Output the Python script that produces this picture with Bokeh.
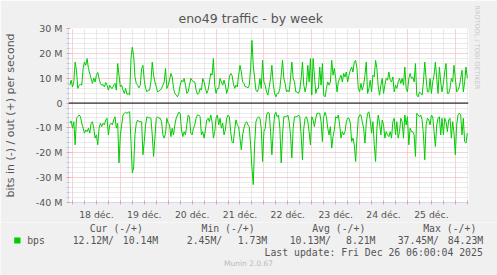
from bokeh.plotting import figure
from bokeh.layouts import column
from bokeh.models import FixedTicker, Span, Title, Range1d
from bokeh.core.properties import value
from bokeh.embed import file_html
from bokeh.resources import INLINE

# ---------------- data ----------------
# sample grid: hours relative to 18 déc. 00:00, one sample every 40 min
start_hour = -4 / 3
step_hour = 2 / 3

# out (+) traffic, Mbit/s
out_mbps = [
    7.2, 9.2, 6.5, 8.5, 16.5, 13.2, 5.9, 7.2, 7.5, 7.2,
    13.9, 16.5, 15.2, 17.9, 13.9, 11.9, 9.9, 7.9, 10.1, 8.5,
    11.2, 12.3, 9.9, 7.9, 7.2, 7.5, 6.5, 8.3, 7.2, 5.2,
    7.2, 6.1, 5.9, 7.2, 7.9, 5.2, 15.9, 11.2, 6.5, 7.2,
    5.2, 3.9, 5.9, 3.5, 3.9, 3.2, 17.9, 22.5, 19.2, 10.5,
    7.9, 7.2, 6.1, 7.2, 13.9, 15.2, 9.2, 5.9, 4.5, 5.2,
    5.2, 8.5, 16.5, 11.2, 8.5, 6.5, 4.5, 4.8, 5.2, 5.9,
    7.2, 8.5, 13.9, 5.9,
    7.2, 9.2, 11.9, 10.5, 5.9, 3.9, 3.2, 2.5, 3.9, 7.2,
    9.2, 8.5, 9.9, 7.2, 3.9, 4.5, 7.2, 9.9, 9.2, 8.5,
    8.5, 5.2, 3.5, 3.9, 5.9, 5.2, 9.9, 8.5, 5.9, 3.9,
    5.2, 8.5, 11.9, 11.2, 17.9, 7.2, 3.9, 5.9, 5.9, 9.9,
    8.5, 7.2, 9.2, 7.2, 3.9, 5.9, 10.5, 11.9, 11.2, 7.9,
    5.9, 7.2, 6.5, 11.2, 15.2, 12.5, 8.5, 7.9, 6.5, 6.5,
    6.1, 7.2, 13.9, 25.2, 15.2, 9.9, 5.2, 4.5, 5.9, 9.9,
    5.9, 17.2, 8.5, 7.2, 4.5, 3.2,
    6.5, 9.9, 15.2, 7.9, 3.9, 2.5, 3.9, 3.9, 5.9, 11.2,
    17.2, 9.9, 7.9, 4.5, 5.2, 4.5, 9.9, 16.5, 9.9, 8.5,
    4.5, 4.5, 3.9, 5.2, 9.9, 16.5, 7.2, 4.5, 7.2, 15.2,
    8.5, 17.9, 3.2, 17.9, 11.2, 3.9, 5.9, 5.9, 14.5, 7.2,
    15.9, 3.2, 2.5, 5.9, 8.5, 7.2, 8.5, 17.2, 11.2, 13.9,
    9.9, 4.5, 8.5, 9.9, 11.2, 8.5, 11.9, 10.5, 12.5, 8.5,
    11.2, 13.2, 14.5, 12.5, 16.5, 17.2, 13.9, 5.9, 4.5, 7.9,
    5.2, 7.2, 11.2, 16.5, 3.9,
    5.9, 9.2, 4.5, 11.2, 10.5, 17.2, 13.9, 6.5, 3.2, 7.2,
    9.9, 3.9, 7.2, 9.9, 9.2, 12.5, 9.2, 8.5, 10.5, 4.5,
    7.2, 5.9, 8.5, 9.9, 7.9, 9.9, 7.2, 14.5, 5.9, 4.5,
    9.9, 11.9, 9.9, 10.5, 8.5, 15.9, 3.2, 2.5, 4.5, 3.9,
    3.2, 8.5, 16.5, 9.9, 4.5, 4.5, 9.9, 3.9, 8.5, 11.2,
    16.5, 9.9, 3.9, 14.5, 8.5, 4.5, 7.9, 12.5, 15.9, 3.9,
    3.9, 5.9, 9.9, 8.5, 15.2, 9.9, 4.5, 5.2, 6.5, 9.9,
    13.2, 4.5, 8.5, 14.5, 10.1,
]

# in (-) traffic, Mbit/s (drawn below zero)
in_mbps = [
    8.1, 7.2, 10.1, 7.5, 16.8, 6.1, 5.5, 4.8, 5.5, 8.1,
    10.1, 12.1, 10.8, 11.5, 10.1, 12.1, 8.1, 7.5, 10.1, 14.1,
    12.8, 16.8, 10.1, 8.1, 9.5, 8.1, 8.8, 6.8, 6.1, 12.8,
    8.8, 8.1, 8.8, 6.8, 5.5, 10.1, 8.1, 24.1, 12.8, 8.8,
    4.8, 4.1, 3.7, 4.1, 3.7, 3.5, 15.5, 28.1, 26.1, 12.8,
    8.1, 6.8, 7.5, 7.5, 7.5, 20.8, 15.5, 8.8, 5.5, 5.9,
    5.9, 6.1, 12.8, 21.5, 14.1, 6.1, 5.5, 6.1, 6.1, 7.5,
    12.8, 14.1, 12.1, 6.1,
    8.1, 8.8, 13.5, 10.1, 12.8, 8.8, 6.1, 4.8, 3.7, 4.1,
    10.8, 13.5, 11.5, 12.8, 8.8, 4.8, 5.5, 12.1, 12.8, 10.1,
    8.8, 6.1, 4.8, 4.8, 5.5, 12.8, 11.5, 14.1, 10.8, 6.8,
    6.1, 7.5, 4.8, 7.5, 14.1, 11.5, 6.1, 4.8, 8.8, 6.1,
    10.1, 8.1, 12.8, 10.8, 6.1, 4.8, 5.5, 11.5, 15.5, 16.1,
    10.8, 6.8, 8.8, 9.5, 14.1, 18.8, 12.8, 10.1, 8.1, 7.5,
    8.8, 9.5, 16.8, 26.1, 32.8, 16.8, 7.5, 6.1, 5.5, 6.1,
    10.1, 23.5, 11.5, 10.1, 4.8, 3.7,
    4.1, 11.5, 20.8, 11.5, 4.8, 3.7, 5.5, 4.8, 10.1, 24.1,
    12.8, 5.5, 5.5, 5.5, 4.8, 7.5, 12.8, 22.1, 10.1, 5.5,
    5.5, 5.5, 4.8, 5.5, 12.8, 22.8, 10.1, 6.1, 5.5, 7.5,
    11.5, 16.8, 5.5, 6.8, 9.5, 6.1, 4.1, 4.1, 4.1, 7.5,
    15.5, 5.5, 3.7, 5.5, 10.1, 12.8, 9.5, 18.1, 13.5, 10.8,
    5.5, 6.1, 4.8, 8.8, 14.1, 11.5, 12.8, 11.5, 7.5, 6.1,
    6.1, 8.1, 15.5, 14.1, 16.8, 23.5, 14.1, 6.1, 4.8, 4.8,
    7.5, 10.1, 16.1, 8.1, 4.1,
    3.5, 6.8, 12.1, 7.5, 16.8, 23.5, 10.1, 4.8, 8.1, 12.8,
    6.8, 8.8, 14.1, 11.5, 12.8, 13.5, 11.5, 14.1, 7.5, 6.1,
    12.8, 7.5, 14.1, 11.5, 6.1, 7.5, 14.1, 4.8, 8.8, 5.5,
    16.8, 10.1, 11.5, 11.5, 12.8, 21.5, 4.1, 4.8, 5.5, 4.8,
    6.8, 12.8, 22.8, 8.8, 6.1, 6.8, 8.8, 4.8, 5.5, 11.5,
    17.5, 8.8, 6.1, 5.5, 12.8, 6.1, 12.8, 6.1, 7.5, 11.5,
    6.8, 6.1, 14.1, 7.5, 12.1, 20.8, 8.8, 4.8, 4.1, 4.8,
    12.8, 6.1, 15.5, 16.1, 12.1,
]

day_labels = ["18 déc.", "19 déc.", "20 déc.", "21 déc.",
              "22 déc.", "23 déc.", "24 déc.", "25 déc."]
y_ticks = [-40, -30, -20, -10, 0, 10, 20, 30]

title_text = "eno49 traffic - by week"
y_title = "bits in (-) / out (+) per second"
legend_headers = ["Cur (-/+)", "Min (-/+)", "Avg (-/+)", "Max (-/+)"]
legend_in = ["12.12M/", "2.45M/", "10.13M/", "37.45M/"]
legend_out = ["10.14M", "1.73M", "8.21M", "84.23M"]
series_name = "bps"
last_update = "Last update: Fri Dec 26 06:00:04 2025"
footer = "Munin 2.0.67"
brand = "RRDTOOL / TOBI OETIKER"

hours = [start_hour + i * step_hour for i in range(len(out_mbps))]
in_neg = [-v for v in in_mbps]

# ---------------- main chart ----------------
FONT_C = "#555555"
AXIS_C = "#CFD6F8"
GREEN = "#00CC00"
BG = "#F0F0F0"

p = figure(width=497, height=222, output_backend="svg", toolbar_location=None,
           x_range=(-2, 198.6), y_range=(-40, 30),
           min_border_left=66, min_border_right=29, min_border_top=28,
           min_border_bottom=19)
p.background_fill_color = "white"
p.border_fill_color = BG
p.outline_line_color = None
p.frame_align = False

# title
p.title.text = title_text
p.title.align = "left"
p.title.offset = 110
p.title.standoff = 6
p.title.text_font = "DejaVu Sans"
p.title.text_font_size = "12.5px"
p.title.text_font_style = "normal"
p.title.text_color = FONT_C

# brand text on the right
p.add_layout(Title(text=brand, align="left", offset=-23, vertical_align="top",
                   standoff=4, text_font="DejaVu Sans", text_font_size="6.5px",
                   text_font_style="normal", text_color="#C8C8C8"), "right")

# y axis
ymin = [v for v in range(-40, 31, 2) if v % 10 != 0]
p.yaxis.ticker = FixedTicker(ticks=y_ticks, minor_ticks=ymin)
p.yaxis.major_label_overrides = {v: (f"{v} M" if v != 0 else "0") for v in y_ticks}
p.yaxis.axis_line_color = AXIS_C
p.yaxis.major_tick_in = 2
p.yaxis.major_tick_out = 2
p.yaxis.major_tick_line_color = "#F0A0A0"
p.yaxis.minor_tick_in = 1
p.yaxis.minor_tick_out = 2
p.yaxis.minor_tick_line_color = "#C8C8C8"
p.yaxis.major_label_standoff = 4
p.yaxis.major_label_text_font = "DejaVu Sans"
p.yaxis.major_label_text_font_size = "9.5px"
p.yaxis.major_label_text_color = FONT_C
p.yaxis.axis_label = y_title
p.yaxis.axis_label_standoff = 16
p.yaxis.axis_label_text_font = "DejaVu Sans"
p.yaxis.axis_label_text_font_size = "11px"
p.yaxis.axis_label_text_font_style = "normal"
p.yaxis.axis_label_text_color = FONT_C

# x axis
noons = [12 + 24 * i for i in range(len(day_labels))]
midnights = [24 * i for i in range(9)]
six_h = [h for h in range(0, 199, 6) if h % 24 != 0]
p.xaxis.ticker = FixedTicker(ticks=noons, minor_ticks=[h for h in range(0, 199, 6)])
p.xaxis.major_label_overrides = {n: lab for n, lab in zip(noons, day_labels)}
p.xaxis.axis_line_color = AXIS_C
p.xaxis.major_tick_line_color = None
p.xaxis.major_tick_out = 2
p.xaxis.major_tick_in = 0
p.xaxis.minor_tick_in = 2
p.xaxis.minor_tick_out = 2
p.xaxis.minor_tick_line_color = "#E8A0A0"
p.xaxis.major_label_standoff = 4
p.xaxis.major_label_text_font = "DejaVu Sans"
p.xaxis.major_label_text_font_size = "9.3px"
p.xaxis.major_label_text_color = FONT_C

# grids
p.xgrid.ticker = FixedTicker(ticks=midnights, minor_ticks=six_h)
for g in (p.xgrid[0], p.ygrid[0]):
    g.grid_line_color = "#F2A6A6"
    g.grid_line_dash = "1 1"
    g.minor_grid_line_color = "#D6D6D6"
    g.minor_grid_line_dash = "1 1"

# data
p.line(hours, out_mbps, line_color=GREEN, line_width=1)
p.line(hours, in_neg, line_color=GREEN, line_width=1)
p.add_layout(Span(location=0, dimension="width", line_color="black", line_width=1))

# ---------------- legend strip (canvas pixel coordinates y 222..275) ----------------
leg = figure(width=497, height=53, output_backend="svg", toolbar_location=None,
             x_range=Range1d(0, 497), y_range=Range1d(275, 222),
             x_axis_type=None, y_axis_type=None,
             min_border=0, min_border_left=0, min_border_right=0,
             min_border_top=0, min_border_bottom=0)
leg.background_fill_color = BG
leg.border_fill_color = BG
leg.outline_line_color = None
leg.grid.visible = False
leg.frame_align = False

mono = value("DejaVu Sans Mono")
fs = value("9.8px")
head_x = [89.3, 201, 311.7, 422.7]
in_right = [113.5, 221.7, 330.5, 438.5]
out_right = [157.7, 266.7, 375, 482.7]

leg.text(x=head_x, y=[227.7] * 4, text=legend_headers, text_font=mono,
         text_font_size=fs, text_color=FONT_C, text_align="left",
         text_baseline="middle")
leg.text(x=[26.7], y=[239.7], text=[series_name], text_font=mono,
         text_font_size=fs, text_color=FONT_C, text_align="left",
         text_baseline="middle")
leg.text(x=in_right + out_right + [482.3], y=[239.7] * 8 + [251.7],
         text=legend_in + legend_out + [last_update], text_font=mono,
         text_font_size=fs, text_color=FONT_C, text_align="right",
         text_baseline="middle")
leg.text(x=[248], y=[263.3], text=[footer], text_font=value("DejaVu Sans"),
         text_font_size=value("7.5px"), text_color="#BBBBBB", text_align="center",
         text_baseline="middle")
leg.quad(left=[13.7], right=[20], top=[237], bottom=[243], fill_color=GREEN,
         line_color=None)

layout = column(p, leg, spacing=0)
open("out.html", "w").write(file_html(layout, INLINE))
